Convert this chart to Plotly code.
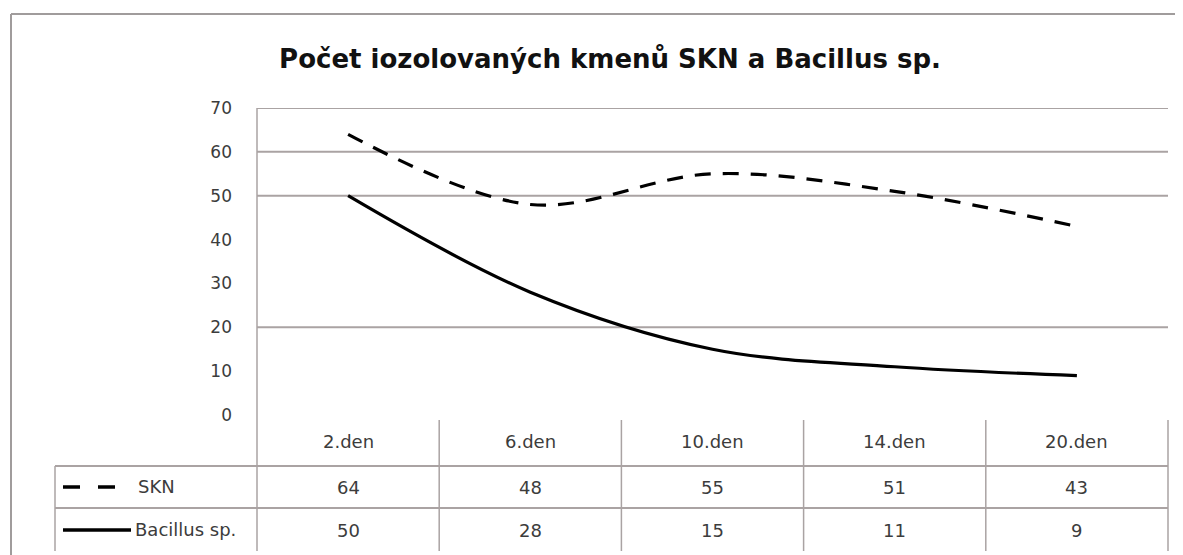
import plotly.graph_objects as go

categories = ["2.den", "6.den", "10.den", "14.den", "20.den"]
skn = [64, 48, 55, 51, 43]
bacillus = [50, 28, 15, 11, 9]
series_names = ["SKN", "Bacillus sp."]
y_ticks = [0, 10, 20, 30, 40, 50, 60, 70]
grid_ticks = [20, 50, 60, 70]
title = "Počet iozolovaných kmenů SKN a Bacillus sp."

OFF = 8  # page body margin
W, H = 1183 - OFF, 555 - OFF
SL, SR, ST, SB = 257, 1168, 108, 415
PL, PR, PT, PB = SL - OFF, SR - OFF, ST - OFF, SB - OFF

def px(x):
    return (x - SL) / (SR - SL)

def py(y):
    return (SB - y) / (SB - ST)

FONT = "DejaVu Sans"
TXT = "#3c3c3c"
GRID = "#aaa3a3"

fig = go.Figure()
fig.add_trace(go.Scatter(
    x=categories, y=skn, mode="lines", name=series_names[0],
    line=dict(color="black", width=3.2, dash="16px,12px", shape="spline", smoothing=1.0),
    showlegend=False, hoverinfo="skip"))
fig.add_trace(go.Scatter(
    x=categories, y=bacillus, mode="lines", name=series_names[1],
    line=dict(color="black", width=3.2, shape="spline", smoothing=1.0),
    showlegend=False, hoverinfo="skip"))

fig.update_layout(
    width=W, height=H,
    margin=dict(l=PL, r=W - PR, t=PT, b=H - PB, pad=0),
    paper_bgcolor="white", plot_bgcolor="white",
    title=dict(text="<b>" + title + "</b>", x=(610 - OFF) / W, xanchor="center", y=1 - (59 - OFF) / H,
               yanchor="middle", font=dict(family=FONT, size=26, color="#111111")),
    xaxis=dict(type="category", categoryarray=categories, range=[-0.5, 4.5],
               showticklabels=False, showgrid=False, zeroline=False, showline=False),
    yaxis=dict(range=[0, 70], tickvals=y_ticks, showgrid=False, zeroline=False,
               showline=False, ticks="", ticklabelstandoff=24,
               tickfont=dict(family=FONT, size=17, color=TXT)),
)

shapes = []
LC = GRID
# horizontal gridlines (only those visible in the reference)
for g in grid_ticks:
    shapes.append(dict(type="line", xref="paper", yref="y", x0=0, x1=1, y0=g, y1=g, layer="below",
                       line=dict(color=GRID, width=2)))
shapes.append(dict(type="line", xref="paper", yref="paper", x0=px(11), x1=px(11), y0=py(14), y1=py(560),
                   line=dict(color="#a09c9c", width=2)))
shapes.append(dict(type="line", xref="paper", yref="paper", x0=px(11), x1=px(1190), y0=py(14), y1=py(14),
                   line=dict(color="#a09c9c", width=2)))
shapes.append(dict(type="line", xref="paper", yref="paper", x0=0, x1=0, y0=py(ST), y1=py(551),
                   line=dict(color=LC, width=1.5)))
for i in range(1, len(categories) + 1):
    xx = i / len(categories)
    shapes.append(dict(type="line", xref="paper", yref="paper", x0=xx, x1=xx, y0=py(420), y1=py(551),
                       line=dict(color=LC, width=1.5)))
for yy in (466, 508):
    shapes.append(dict(type="line", xref="paper", yref="paper", x0=px(55), x1=1, y0=py(yy), y1=py(yy),
                       line=dict(color=LC, width=2)))
shapes.append(dict(type="line", xref="paper", yref="paper", x0=px(55), x1=px(55), y0=py(466), y1=py(551),
                   line=dict(color=LC, width=1.5)))
shapes.append(dict(type="line", xref="paper", yref="paper", x0=px(63), x1=px(118), y0=py(487), y1=py(487),
                   line=dict(color="black", width=3.5, dash="17px,18px")))
shapes.append(dict(type="line", xref="paper", yref="paper", x0=px(63), x1=px(131), y0=py(530), y1=py(530),
                   line=dict(color="black", width=3.5)))

annotations = []
for c in categories:
    annotations.append(dict(x=c, xref="x", y=py(441), yref="paper", text=c, showarrow=False,
                            xanchor="center", yanchor="middle", font=dict(family=FONT, size=18, color=TXT)))
for rowy, vals in ((487, skn), (530, bacillus)):
    for c, v in zip(categories, vals):
        annotations.append(dict(x=c, xref="x", y=py(rowy), yref="paper", text=str(v), showarrow=False,
                                xanchor="center", yanchor="middle", font=dict(family=FONT, size=18, color=TXT)))
annotations.append(dict(x=px(136), xref="paper", y=py(486), yref="paper", text=series_names[0],
                        showarrow=False, xanchor="left", yanchor="middle",
                        font=dict(family=FONT, size=18, color=TXT)))
annotations.append(dict(x=px(133), xref="paper", y=py(529), yref="paper", text=series_names[1],
                        showarrow=False, xanchor="left", yanchor="middle",
                        font=dict(family=FONT, size=18, color=TXT)))

fig.update_layout(shapes=shapes, annotations=annotations)
fig.write_html("out.html")
